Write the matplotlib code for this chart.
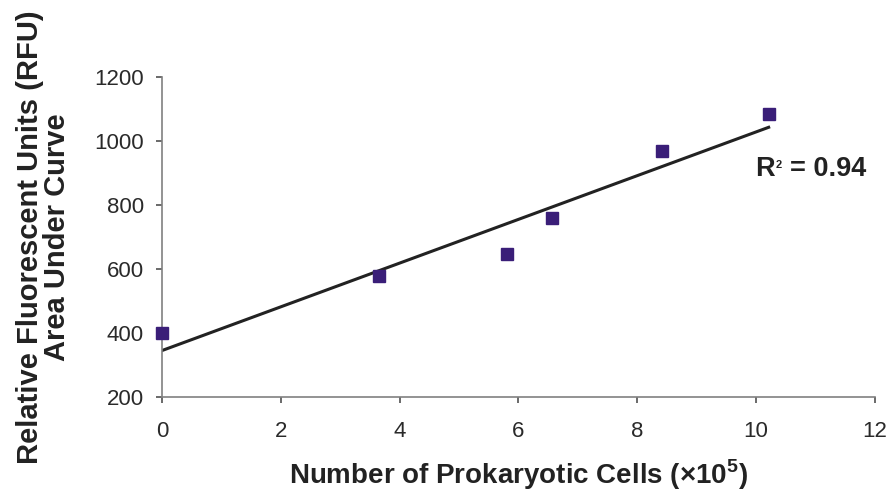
import numpy as np
import matplotlib
matplotlib.use('Agg')
import matplotlib.pyplot as plt

plt.rcParams['font.family'] = ['Liberation Sans', 'DejaVu Sans']
plt.rcParams['mathtext.fontset'] = 'custom'
plt.rcParams['mathtext.rm'] = 'Liberation Sans'
plt.rcParams['mathtext.bf'] = 'Liberation Sans:bold'

# data
cells = [0, 3.65, 5.8, 6.57, 8.41, 10.21]
rfu = [400, 579, 647, 758, 970, 1084]
x_ticks = [0, 2, 4, 6, 8, 10, 12]
y_ticks = [200, 400, 600, 800, 1000, 1200]
r2_label = '0.94'

fig = plt.figure(figsize=(8.87, 4.93), dpi=100)
ax = fig.add_axes([0.1826, 0.1947, 0.8039, 0.6491])

# linear trendline
slope, icpt = np.polyfit(cells, rfu, 1)
xx = np.array([min(cells), max(cells)])
ax.plot(xx, slope*xx + icpt, color='#222222', lw=2.2, zorder=2)
ax.plot(cells, rfu, 's', color='#3a1e78', markersize=8.5, zorder=3, clip_on=False)

ax.set_xlim(0, 12)
ax.set_ylim(200, 1200)
ax.set_xticks(x_ticks)
ax.set_yticks(y_ticks)
for s in ['top', 'right']:
    ax.spines[s].set_visible(False)
for s in ['left', 'bottom']:
    ax.spines[s].set_color('#808080')
    ax.spines[s].set_linewidth(1.2)
ax.tick_params(colors='#505050', labelcolor='#2a2a2a', labelsize=16, length=4.5, width=1.2)
ax.tick_params(axis='x', pad=13)
ax.tick_params(axis='y', pad=8.5)

ax.set_xlabel(r'Number of Prokaryotic Cells (×10$^{\mathbf{5}}$)', fontsize=20,
              fontweight='bold', color='#222222')
ax.xaxis.label.set_va('baseline')
ax.xaxis.set_label_coords(0.5, -0.272)
ax.set_ylabel('Relative Fluorescent Units (RFU)\nArea Under Curve', fontsize=21,
              fontweight='bold', color='#222222', linespacing=0.95)
ax.yaxis.set_label_coords(-0.128, 0.5)

# R squared, with a small raised 2 like the original
r = ax.text(9.98, 890, 'R', fontsize=19.5, fontweight='bold', color='#222222', va='baseline')
ax.annotate('2', xy=(1, 1), xycoords=r, xytext=(1, -3), textcoords='offset points',
            fontsize=8, fontweight='bold', color='#222222', ha='left', va='top')
ax.annotate('= ' + r2_label, xy=(1, 0), xycoords=r, xytext=(11, 0), textcoords='offset points',
            fontsize=19.5, fontweight='bold', color='#222222', ha='left', va='bottom')

fig.savefig('out.png', dpi=100)
